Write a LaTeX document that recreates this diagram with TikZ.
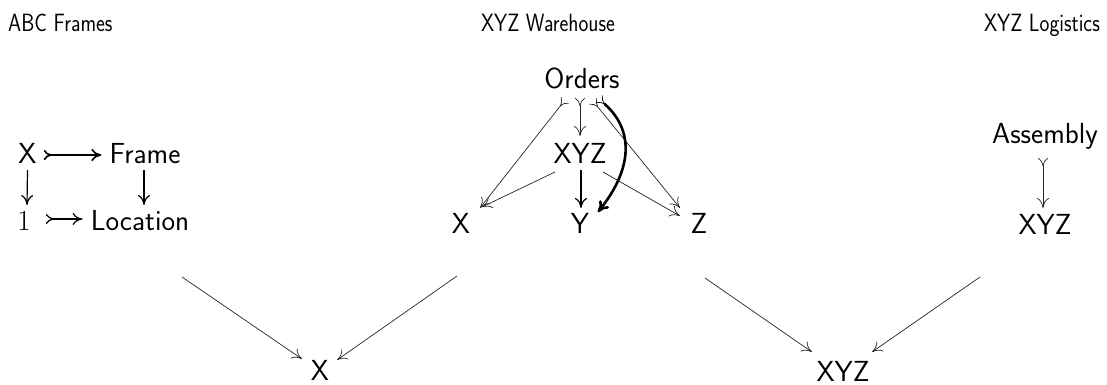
\documentclass[tikz,border=0pt]{standalone}
\usepackage{fontspec}
\newfontfamily\ttlfont{Latin Modern Sans}[FakeStretch=0.84]
\usetikzlibrary{arrows.meta}
\begin{document}
\begin{tikzpicture}[x=1pt,y=-1pt,
  lab/.style={font=\fontsize{29}{34}\selectfont\sffamily, inner sep=0pt, anchor=base},
  ttl/.style={font=\fontsize{25}{30}\selectfont\ttlfont, inner sep=0pt, anchor=base},
  hd/.style={-{Computer Modern Rightarrow[length=10pt,width=12pt]}},
  mono/.style={{Computer Modern Rightarrow[length=8pt,width=10pt,reversed]}-{Computer Modern Rightarrow[length=10pt,width=12pt]}},
  monoh/.style={{Computer Modern Rightarrow[length=8pt,width=10pt,reversed,line width=0.7pt]}-{Computer Modern Rightarrow[length=11pt,width=12pt]}},
  thin/.style={line width=0.7pt, draw=black!85},
  med/.style={line width=1.2pt, draw=black},
  thick/.style={line width=1.6pt, draw=black},
  heavy/.style={line width=2.6pt, draw=black}]
\useasboundingbox (0,0) rectangle (1107,385);
% titles
\node[ttl, anchor=base west] (tABC) at (8,32) {ABC Frames};
\node[ttl] (tWare) at (548,32) {XYZ Warehouse};
\node[ttl, anchor=base east] (tLog) at (1100,32) {XYZ Logistics};
% left square
\node[lab] (lX) at (27.5,163) {X};
\node[lab] (lFrame) at (145,163) {Frame};
\node[lab, font=\fontsize{29}{34}\selectfont\rmfamily] (l1) at (24,230) {1};
\node[lab] (lLoc) at (140,230) {Location};
\draw[mono, thick] ([shift={(7,-8)}]lX.base east) -- ([shift={(-8,-8)}]lFrame.base west);
\draw[mono, med] ([shift={(15,-11)}]l1.base east) -- ([shift={(-8,-11)}]lLoc.base west);
\draw[hd, med] ([shift={(0,7)}]lX.base) -- ([shift={(3,-25)}]l1.base);
\draw[hd, med] ([shift={(-1,7)}]lFrame.base) -- ([shift={(4,-25)}]lLoc.base);
% middle
\node[lab] (Orders) at (582,89) {Orders};
\node[lab] (mXYZ) at (580,163) {XYZ};
\node[lab] (mX) at (461,233) {X};
\node[lab] (mY) at (580,233) {Y};
\node[lab] (mZ) at (699,233) {Z};
\draw[mono, thin] ([shift={(-17,11)}]Orders.base) -- ([shift={(19,-25)}]mX.base);
\draw[mono, thin] ([shift={(-2,9)}]Orders.base) -- ([shift={(0,-27)}]mXYZ.base);
\draw[mono, thin] ([shift={(11,12)}]Orders.base) -- ([shift={(-19,-25)}]mZ.base);
\draw[monoh, heavy] ([shift={(17,10)}]Orders.base) .. controls ([shift={(51,40)}]Orders.base) and ([shift={(54,-66)}]mY.base) .. ([shift={(18,-21)}]mY.base);
\draw[hd, thin] ([shift={(-25,9)}]mXYZ.base) -- ([shift={(21,-26)}]mX.base);
\draw[hd, med] ([shift={(1,7)}]mXYZ.base) -- ([shift={(1,-25)}]mY.base);
\draw[hd, thin] ([shift={(23,9)}]mXYZ.base) -- ([shift={(-19,-17)}]mZ.base);
% right
\node[lab] (Asm) at (1045,143) {Assembly};
\node[lab] (rXYZ) at (1045,234) {XYZ};
\draw[mono, thin] ([shift={(-2,15)}]Asm.base) -- ([shift={(-2,-26)}]rXYZ.base);
% bottom
\node[lab] (bX) at (320,380) {X};
\node[lab] (bXYZ) at (843,381) {XYZ};
\coordinate (c1) at (182,277);
\coordinate (c2) at (457,276);
\coordinate (c3) at (705,278);
\coordinate (c4) at (980,277);
\draw[hd, thin] (c1) -- ([shift={(-18,-21)}]bX.base);
\draw[hd, thin] (c2) -- ([shift={(17,-20)}]bX.base);
\draw[hd, thin] (c3) -- ([shift={(-31,-29)}]bXYZ.base);
\draw[hd, thin] (c4) -- ([shift={(29,-29)}]bXYZ.base);
\end{tikzpicture}
\end{document}
